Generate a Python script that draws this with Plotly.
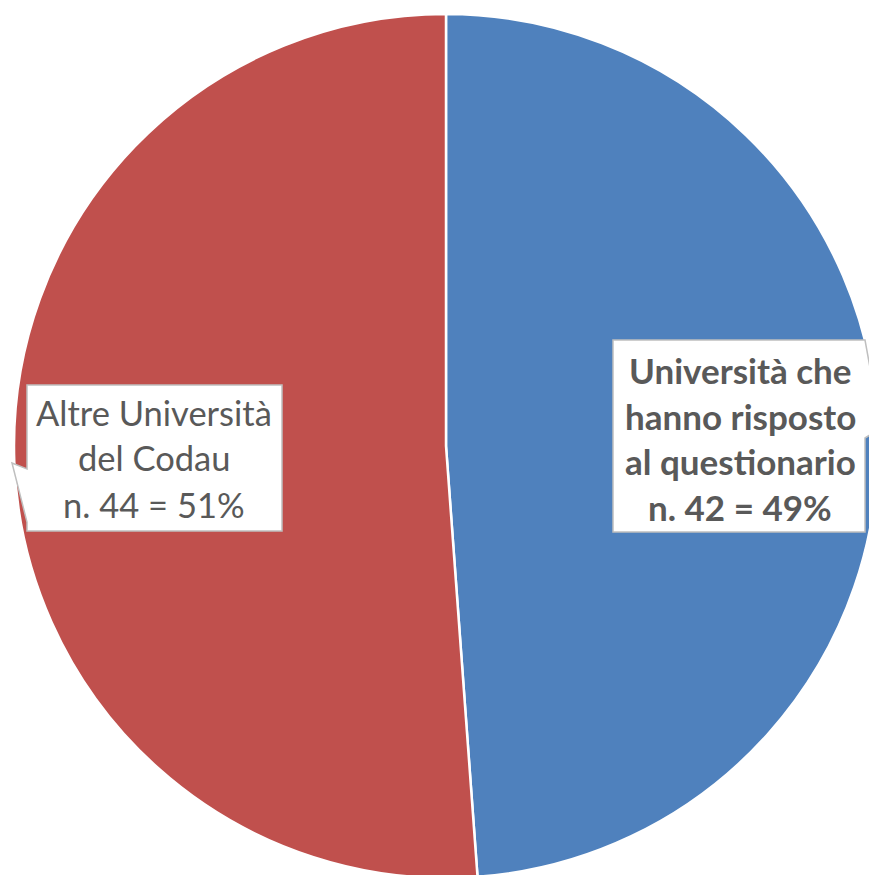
import plotly.graph_objects as go

# Data
categories = ["Università che hanno risposto al questionario", "Altre Università del Codau"]
values = [42, 44]
colors = ["#4F81BD", "#C0504D"]
label_lines = [
    ["Università che", "hanno risposto", "al questionario"],
    ["Altre Università", "del Codau"],
]

W, H = 877, 875
OFF = 8  # page body margin
total = sum(values)
pcts = [round(v / total * 100) for v in values]


def X(px):
    return (px - OFF) / W


def Y(py):
    return 1 - (py - OFF) / H


fig = go.Figure(
    go.Pie(
        labels=categories,
        values=values,
        marker=dict(colors=colors, line=dict(color="white", width=2.5)),
        sort=False,
        direction="clockwise",
        rotation=0,
        textinfo="none",
        hoverinfo="label+value+percent",
        domain=dict(x=[X(14), X(878)], y=[Y(878), Y(14)]),
        showlegend=False,
    )
)

left_path = (
    f"M {X(27)},{Y(385)} L {X(282)},{Y(385)} L {X(282)},{Y(531)} L {X(27)},{Y(531)} "
    f"L {X(27)},{Y(522)} L {X(12)},{Y(463)} L {X(27)},{Y(469)} Z"
)
right_path = (
    f"M {X(613)},{Y(340)} L {X(865)},{Y(340)} L {X(881)},{Y(428)} L {X(865)},{Y(438)} "
    f"L {X(865)},{Y(532)} L {X(613)},{Y(532)} Z"
)
shapes = [
    dict(type="path", path=p, xref="paper", yref="paper",
         fillcolor="white", line=dict(color="#BFBFBF", width=1.5), layer="above")
    for p in (left_path, right_path)
]

annotations = []
# Right label (bold)
right_lines = label_lines[0] + [f"n. {values[0]} = {pcts[0]}%"]
for i, t in enumerate(right_lines):
    annotations.append(dict(
        x=X(740), y=Y(370 + i * 45.5), xref="paper", yref="paper",
        text=f"<b>{t}</b>", showarrow=False, xanchor="center", yanchor="middle",
        font=dict(family="Lato", size=35, color="#595959"),
    ))
# Left label
left_lines = label_lines[1] + [f"n. {values[1]} = {pcts[1]}%"]
for i, t in enumerate(left_lines):
    annotations.append(dict(
        x=X(154), y=Y(412 + i * 46), xref="paper", yref="paper",
        text=t, showarrow=False, xanchor="center", yanchor="middle",
        font=dict(family="Lato", size=34.5, color="#595959"),
    ))

fig.update_layout(
    width=W, height=H,
    margin=dict(l=0, r=0, t=0, b=0),
    paper_bgcolor="white",
    plot_bgcolor="white",
    shapes=shapes,
    annotations=annotations,
)

fig.write_html("out.html")
